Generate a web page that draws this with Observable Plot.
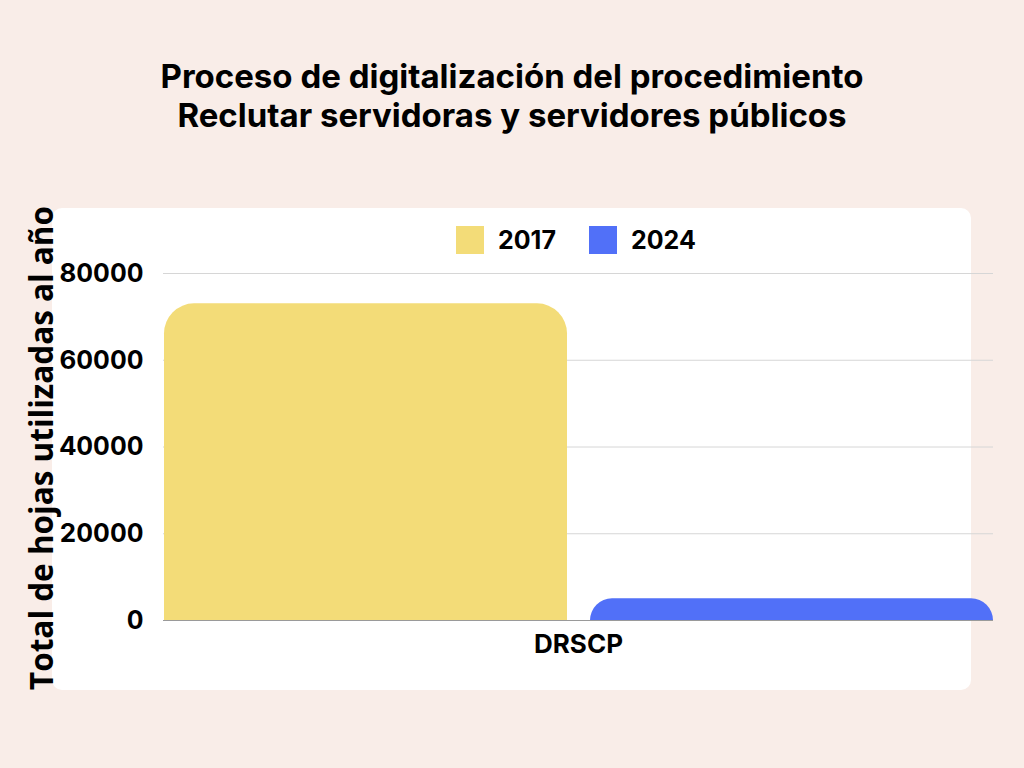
<!DOCTYPE html>
<html><head><meta charset="utf-8">
<script src="https://cdn.jsdelivr.net/npm/d3@7"></script>
<script src="https://cdn.jsdelivr.net/npm/@observablehq/plot@0.6"></script>
<style>
html,body{margin:0;padding:0;background:#f9ede8;}
#page{position:relative;width:1024px;height:768px;overflow:hidden;background:#f9ede8;font-family:Inter,sans-serif;color:#000;}
#title{position:absolute;left:0;top:57px;width:1024px;text-align:center;font-weight:700;font-size:33px;line-height:39px;}
#card{position:absolute;left:52px;top:208px;width:919px;height:482px;background:#fff;border-radius:10px;}
#ylabel{position:absolute;left:40px;top:448px;transform:translate(-50%,-50%) rotate(-90deg);white-space:nowrap;font-family:'Open Sans',sans-serif;font-weight:700;font-size:31.5px;}
#legend{position:absolute;left:456px;top:225px;display:flex;align-items:center;font-weight:700;font-size:25px;}
#legend .item{display:flex;align-items:center;margin-right:33px;}
#legend .sw{width:28px;height:28px;margin-right:14px;}
#chart{position:absolute;left:0;top:0;}
</style></head>
<body>
<div id="page">
  <div id="card"></div>
  <div id="title">Proceso de digitalización del procedimiento<br>Reclutar servidoras y servidores públicos</div>
  <div id="ylabel">Total de hojas utilizadas al año</div>
  <div id="chart"></div>
  <div id="legend"></div>
</div>
<script>
const categories = ["DRSCP"];
const years = ["2017", "2024"];
const values = [73000, 5000];
const colors = ["#f3dc78", "#5170f8"];
const yTicks = [0, 20000, 40000, 60000, 80000];

const data = years.map((y, i) => ({cat: categories[0], year: y, value: values[i]}));

const chart = Plot.plot({
  width: 1024, height: 768,
  marginTop: 273, marginBottom: 148, marginLeft: 163, marginRight: 31,
  style: {background: "transparent", fontFamily: "Inter, sans-serif", overflow: "visible", color: "#000"},
  fx: {domain: categories, padding: 0, label: null, axis: null},
  x: {domain: years, paddingInner: 0.054, paddingOuter: 0, axis: null},
  y: {domain: [0, 80000], label: null},
  color: {domain: years, range: colors},
  marks: [
    Plot.ruleY(yTicks.filter(d => d > 0), {stroke: "#d6d6d6", strokeWidth: 1}),
    Plot.barY(data.filter(d => d.year === years[0]), {fx: "cat", x: "year", y: "value", fill: "year", rx: 30, insetBottom: -60, clip: true}),
    Plot.barY(data.filter(d => d.year === years[1]), {fx: "cat", x: "year", y: "value", fill: "year", rx: 22, insetBottom: -60, clip: true}),
    Plot.ruleY([0], {stroke: "#9a9a9a", strokeWidth: 1}),
    Plot.axisY(yTicks, {tickSize: 0, tickPadding: 20, fontSize: 26, fontWeight: 700, tickFormat: d => String(d), label: null}),
    Plot.axisFx({anchor: "bottom", tickSize: 0, tickPadding: 14, fontSize: 26, fontWeight: 700, label: null})
  ]
});
document.getElementById("chart").appendChild(chart);

const legend = d3.select("#legend");
years.forEach((y, i) => {
  const it = legend.append("div").attr("class", "item");
  it.append("div").attr("class", "sw").style("background", colors[i]);
  it.append("span").text(y);
});
</script>
</body></html>
